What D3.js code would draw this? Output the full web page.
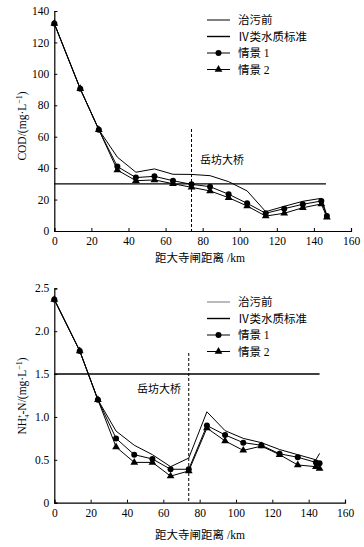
<!DOCTYPE html>
<html>
<head>
<meta charset="utf-8">
<script src="https://cdn.jsdelivr.net/npm/d3@7"></script>
<style>
  body { margin: 0; background: #fff; }
  text { font-family: "Liberation Serif", "Noto Sans CJK SC", serif; fill: #000; }
</style>
</head>
<body>
<div id="chart"></div>
<script>
// COD panel
const codDist = [0, 14, 24, 34, 44, 54, 64, 74, 84, 94, 104, 114, 124, 134, 144, 147];
const codBefore = [132, 90.5, 64.5, 47, 37.4, 39.5, 36.1, 36, 35.2, 31.4, 25.5, 12.3, 15.7, 18.9, 20.8, 10];
const codS1 = [132, 90.5, 64.5, 41, 34, 34.8, 32, 29.7, 28.2, 23.4, 17.6, 11.3, 14.2, 17, 19.1, 9.6];
const codS2 = [132, 90.5, 64.5, 38.8, 32, 32.5, 30.1, 27.8, 25.5, 21.2, 15.9, 9.5, 11.3, 14.8, 17.2, 8.7];
const codStd = 30;
const codTicks = [0, 20, 40, 60, 80, 100, 120, 140];

// NH4-N panel
const nhDist = [0, 14, 24, 34, 44, 54, 64, 74, 84, 94, 104, 114, 124, 134, 144, 146];
const nhBefore = [2.37, 1.77, 1.2, 0.835, 0.67, 0.56, 0.42, 0.52, 1.06, 0.84, 0.75, 0.70, 0.62, 0.56, 0.5, 0.575];
const nhS1 = [2.37, 1.77, 1.2, 0.75, 0.56, 0.51, 0.39, 0.39, 0.9, 0.79, 0.70, 0.67, 0.57, 0.53, 0.47, 0.46];
const nhS2 = [2.37, 1.77, 1.2, 0.65, 0.47, 0.47, 0.31, 0.37, 0.87, 0.72, 0.61, 0.66, 0.56, 0.44, 0.42, 0.40];
const nhStd = 1.5;
const nhTicks = [0, 0.5, 1.0, 1.5, 2.0, 2.5];

const xTicks = [0, 20, 40, 60, 80, 100, 120, 140, 160];
const bridgeKm = 74;
const legendLabels = ["治污前", "Ⅳ类水质标准", "情景 1", "情景 2"];
const xTitle = "距大寺闸距离 /km";

const svg = d3.select("#chart").append("svg")
  .attr("width", 364)
  .attr("height", 547);

function panel(opt) {
  const x = d3.scaleLinear().domain([0, 160]).range(opt.xr);
  const y = d3.scaleLinear().domain(opt.ydom).range(opt.yr);
  const g = svg.append("g");

  // axes, ticks inward
  g.append("g")
    .attr("transform", `translate(0,${opt.yr[0]})`)
    .call(d3.axisBottom(x).tickValues(xTicks).tickSize(-3).tickPadding(6).tickFormat(d3.format("d")))
    .call(a => a.select(".domain").attr("stroke-width", 1.2))
    .call(a => a.selectAll("text").attr("font-size", 11.5));
  g.append("g")
    .attr("transform", `translate(${opt.xr[0]},0)`)
    .call(d3.axisLeft(y).tickValues(opt.ticks).tickSize(-3).tickPadding(5).tickFormat(opt.fmt))
    .call(a => a.select(".domain").attr("stroke-width", 1.2))
    .call(a => a.selectAll("text").attr("font-size", 11.5));

  // standard line
  g.append("line")
    .attr("x1", x(0)).attr("x2", x(opt.stdEnd))
    .attr("y1", y(opt.std)).attr("y2", y(opt.std))
    .attr("stroke", "#000").attr("stroke-width", 1.4);

  // bridge
  g.append("line")
    .attr("x1", x(bridgeKm)).attr("x2", x(bridgeKm))
    .attr("y1", opt.bridgeTop).attr("y2", opt.yr[0])
    .attr("stroke", "#000").attr("stroke-width", 1).attr("stroke-dasharray", "3,2");
  g.append("text")
    .attr("x", opt.bridgeLabel[0]).attr("y", opt.bridgeLabel[1])
    .attr("font-size", 11).text("岳坊大桥");

  const line = d3.line().x((d, i) => x(opt.dist[i])).y(d => y(d));
  [opt.before, opt.s1, opt.s2].forEach(s => {
    g.append("path").datum(s)
      .attr("d", line)
      .attr("fill", "none").attr("stroke", "#000").attr("stroke-width", 1);
  });

  g.selectAll(".tri").data(opt.s2).join("path")
    .attr("transform", (d, i) => `translate(${x(opt.dist[i])},${y(d)})`)
    .attr("d", d3.symbol(d3.symbolTriangle, 26)());
  g.selectAll(".dot").data(opt.s1).join("circle")
    .attr("cx", (d, i) => x(opt.dist[i]))
    .attr("cy", d => y(d))
    .attr("r", 3);

  // y title
  g.append("text")
    .attr("transform", `translate(${opt.yTitlePos[0]},${opt.yTitlePos[1]}) rotate(-90)`)
    .attr("text-anchor", "middle")
    .attr("font-size", 11.5)
    .html(opt.yTitle);

  g.append("text")
    .attr("x", 200).attr("y", opt.xTitleY)
    .attr("text-anchor", "middle").attr("font-size", 11.5)
    .text(xTitle);

  // legend
  const lg = g.append("g");
  legendLabels.forEach((lab, i) => {
    const ly = opt.legendY + i * 16.5;
    lg.append("line").attr("x1", 207).attr("x2", 230).attr("y1", ly).attr("y2", ly)
      .attr("stroke", i === 0 ? opt.beforeColor : "#000")
      .attr("stroke-width", i === 1 ? 1.4 : 1);
    if (i === 2) lg.append("circle").attr("cx", 218.5).attr("cy", ly).attr("r", 3);
    if (i === 3) lg.append("path").attr("transform", `translate(218.5,${ly})`)
      .attr("d", d3.symbol(d3.symbolTriangle, 26)());
    lg.append("text").attr("x", 238).attr("y", ly + 4).attr("font-size", 11.5).text(lab);
  });
}

panel({
  xr: [54.3, 351], ydom: [0, 140], yr: [231, 11], ticks: codTicks, fmt: d3.format("d"),
  dist: codDist, before: codBefore, s1: codS1, s2: codS2,
  std: codStd, stdEnd: 146.5, bridgeTop: 129, bridgeLabel: [200, 164],
  yTitle: 'COD/(mg·L<tspan dy="-4" font-size="8">−1</tspan><tspan dy="4">)</tspan>',
  yTitlePos: [26, 126], xTitleY: 262, legendY: 20, beforeColor: "#000"
});

panel({
  xr: [54.3, 345], ydom: [0, 2.5], yr: [502.7, 288.3], ticks: nhTicks,
  fmt: d => d === 0 ? "0" : d3.format(".1f")(d),
  dist: nhDist, before: nhBefore, s1: nhS1, s2: nhS2,
  std: nhStd, stdEnd: 146, bridgeTop: 353, bridgeLabel: [137, 393],
  yTitle: 'NH<tspan dy="3" font-size="7">4</tspan><tspan dx="-4" dy="-7" font-size="7">+</tspan><tspan dy="4">-N/(mg·L</tspan><tspan dy="-4" font-size="8">−1</tspan><tspan dy="4">)</tspan>',
  yTitlePos: [26, 396], xTitleY: 539, legendY: 302, beforeColor: "#777"
});
</script>
</body>
</html>
